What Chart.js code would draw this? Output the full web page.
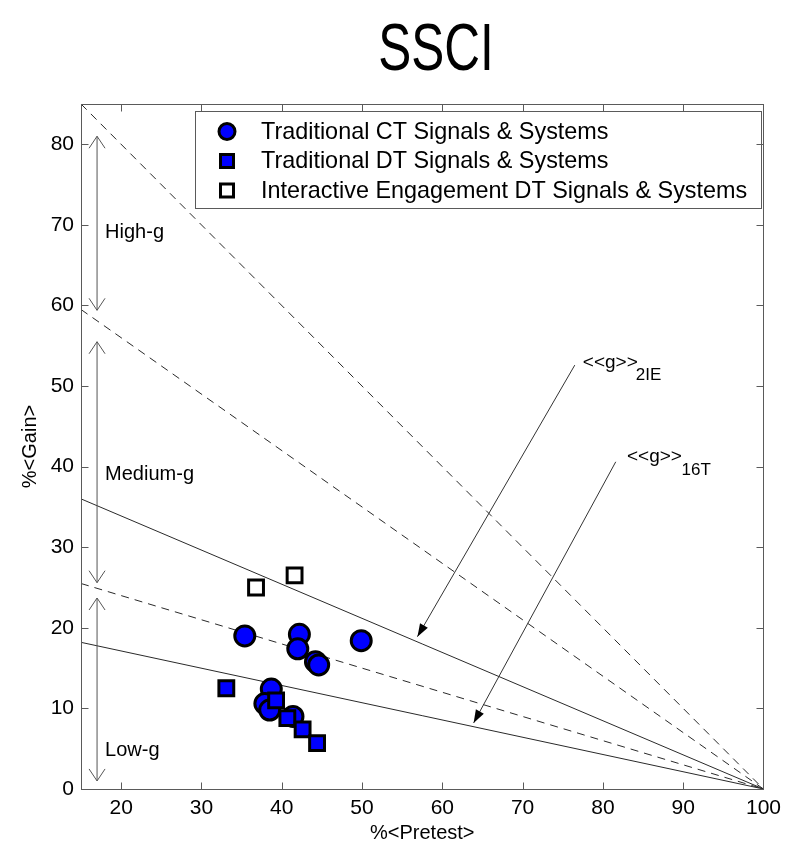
<!DOCTYPE html>
<html>
<head>
<meta charset="utf-8">
<title>SSCI</title>
<script src="https://cdn.jsdelivr.net/npm/chart.js@4.4.0/dist/chart.umd.min.js"></script>
<style>
  html, body { margin: 0; padding: 0; background: #fff; }
  #wrap { width: 788px; height: 845px; }
</style>
</head>
<body>
<div id="wrap"><canvas id="chart" width="788" height="845"></canvas></div>
<script>
// SSCI: % pretest vs % gain, with normalized-gain reference lines

// Traditional CT Signals & Systems
const ctPretest = [35.4, 42.2, 42.0, 49.9, 44.2, 44.6, 38.7, 37.9, 38.5, 41.4];
const ctGain    = [19.0, 19.2, 17.4, 18.4, 15.8, 15.4, 12.4, 10.6,  9.8,  9.0];

// Traditional DT Signals & Systems
const dtPretest = [33.1, 39.3, 40.7, 42.6, 44.4];
const dtGain    = [12.5, 11.0,  8.8,  7.4,  5.7];

// Interactive Engagement DT Signals & Systems
const iePretest = [36.8, 41.6];
const ieGain    = [25.0, 26.5];

// reference lines: start at pretest 15, all end at (100, 0)
const gLineStartY = [85.0, 59.5, 36.0, 25.5, 18.2];
const gLineDashed = [true, true, false, true, false];

const xTicks = [20, 30, 40, 50, 60, 70, 80, 90, 100];
const yTicks = [0, 10, 20, 30, 40, 50, 60, 70, 80];

// band arrows on the left
const bandLabels = ['High-g', 'Medium-g', 'Low-g'];
const bandTop    = [81.0, 55.5, 23.7];
const bandBottom = [59.4, 25.6, 1.0];
const bandLabelY = [69.0, 39.0, 4.8];

// <<g>> callouts
const gArrowFrom = [[76.5, 52.6], [81.6, 40.6]];
const gArrowTo   = [[56.9, 18.9], [63.9, 8.2]];
const gLabelPos  = [[77.5, 52.9], [83.0, 41.2]];
const gSubText   = ['2IE', '16T'];
const gSubPos    = [[84.1, 51.3], [89.8, 39.6]];

const FONT = "'Liberation Sans', Arial, Helvetica, sans-serif";
const AXIS_GREY = '#5a5a5a';

const legendItems = [
    { text: 'Traditional CT Signals & Systems', style: 'circle', fill: '#0000ff' },
    { text: 'Traditional DT Signals & Systems', style: 'rect', fill: '#0000ff' },
    { text: 'Interactive Engagement DT Signals & Systems', style: 'rect', fill: '#ffffff' },
];

function toPoints(xs, ys) {
    return xs.map((x, i) => ({ x, y: ys[i] }));
}

function arrowHead(ctx, x1, y1, x2, y2, len, half, filled) {
    const a = Math.atan2(y2 - y1, x2 - x1);
    const bx = x2 - len * Math.cos(a), by = y2 - len * Math.sin(a);
    const px = -Math.sin(a) * half, py = Math.cos(a) * half;
    ctx.beginPath();
    ctx.moveTo(bx + px, by + py);
    ctx.lineTo(x2, y2);
    ctx.lineTo(bx - px, by - py);
    if (filled) {
        ctx.closePath();
        ctx.fill();
    } else {
        ctx.stroke();
    }
}

const overlay = {
    id: 'overlay',
    afterDatasetsDraw(chart) {
        const { ctx } = chart;
        const xs = chart.scales.x, ys = chart.scales.y;
        ctx.save();

        // band arrows (double headed, open heads)
        ctx.strokeStyle = '#555';
        ctx.lineWidth = 1;
        const ax = xs.getPixelForValue(17);
        bandLabels.forEach((lbl, i) => {
            const yt = ys.getPixelForValue(bandTop[i]);
            const yb = ys.getPixelForValue(bandBottom[i]);
            ctx.beginPath();
            ctx.moveTo(ax, yt);
            ctx.lineTo(ax, yb);
            ctx.stroke();
            arrowHead(ctx, ax, yb, ax, yt, 12, 8, false);
            arrowHead(ctx, ax, yt, ax, yb, 12, 8, false);

            ctx.fillStyle = '#000';
            ctx.font = `20px ${FONT}`;
            ctx.textAlign = 'left';
            ctx.textBaseline = 'middle';
            ctx.fillText(lbl, xs.getPixelForValue(18.0), ys.getPixelForValue(bandLabelY[i]));
        });

        // <<g>> callout arrows
        gArrowFrom.forEach((from, i) => {
            const x1 = xs.getPixelForValue(from[0]), y1 = ys.getPixelForValue(from[1]);
            const x2 = xs.getPixelForValue(gArrowTo[i][0]), y2 = ys.getPixelForValue(gArrowTo[i][1]);
            ctx.strokeStyle = '#333';
            ctx.fillStyle = '#000';
            ctx.beginPath();
            ctx.moveTo(x1, y1);
            ctx.lineTo(x2, y2);
            ctx.stroke();
            arrowHead(ctx, x1, y1, x2, y2, 13, 4.5, true);

            ctx.textAlign = 'left';
            ctx.textBaseline = 'middle';
            ctx.font = `19px ${FONT}`;
            ctx.fillText('<<g>>', xs.getPixelForValue(gLabelPos[i][0]), ys.getPixelForValue(gLabelPos[i][1]));
            ctx.font = `17px ${FONT}`;
            ctx.fillText(gSubText[i], xs.getPixelForValue(gSubPos[i][0]), ys.getPixelForValue(gSubPos[i][1]));
        });

        // legend box
        const lx = 195, ly = 111, lw = 566, lh = 97;
        ctx.fillStyle = '#fff';
        ctx.fillRect(lx, ly, lw, lh);
        ctx.strokeStyle = AXIS_GREY;
        ctx.lineWidth = 1;
        ctx.strokeRect(lx + 0.5, ly + 0.5, lw, lh);
        const rowY = [131.5, 161, 190.5];
        legendItems.forEach((item, i) => {
            const mx = 227, my = rowY[i];
            ctx.fillStyle = item.fill;
            ctx.strokeStyle = '#000';
            ctx.lineWidth = 3;
            ctx.beginPath();
            if (item.style === 'circle') {
                ctx.arc(mx, my, 8, 0, Math.PI * 2);
            } else {
                ctx.rect(mx - 6.5, my - 6.5, 13, 13);
            }
            ctx.fill();
            ctx.stroke();

            ctx.fillStyle = '#000';
            ctx.font = `23.4px ${FONT}`;
            ctx.textAlign = 'left';
            ctx.textBaseline = 'middle';
            ctx.fillText(item.text, 261, my + 1);
        });

        ctx.restore();
    },
    afterDraw(chart) {
        const { ctx, chartArea: ca } = chart;
        const xs = chart.scales.x, ys = chart.scales.y;
        ctx.save();

        // axes box with inward ticks on all sides
        ctx.strokeStyle = AXIS_GREY;
        ctx.lineWidth = 1;
        const L = Math.round(ca.left) + 0.5, R = Math.round(ca.right) + 0.5;
        const T = Math.round(ca.top) + 0.5, B = Math.round(ca.bottom) + 0.5;
        ctx.strokeRect(L, T, R - L, B - T);
        ctx.beginPath();
        xTicks.forEach(v => {
            const px = Math.round(xs.getPixelForValue(v)) + 0.5;
            ctx.moveTo(px, B); ctx.lineTo(px, B - 7);
            ctx.moveTo(px, T); ctx.lineTo(px, T + 7);
        });
        yTicks.forEach(v => {
            const py = Math.round(ys.getPixelForValue(v)) + 0.5;
            ctx.moveTo(L, py); ctx.lineTo(L + 7, py);
            ctx.moveTo(R, py); ctx.lineTo(R - 7, py);
        });
        ctx.stroke();

        // title, condensed like the original
        ctx.fillStyle = '#000';
        ctx.font = `66px ${FONT}`;
        ctx.textAlign = 'center';
        ctx.textBaseline = 'alphabetic';
        ctx.translate(436, 70);
        ctx.scale(0.75, 1);
        ctx.fillText('SSCI', 0, 0);

        ctx.restore();
    },
};

const lineDatasets = gLineStartY.map((y0, i) => ({
    type: 'scatter',
    label: 'g' + i,
    data: [{ x: 15, y: y0 }, { x: 100, y: 0 }],
    showLine: true,
    borderColor: '#2a2a2a',
    borderWidth: 1,
    borderDash: gLineDashed[i] ? [8, 6] : [],
    pointRadius: 0,
    order: 10,
}));

new Chart(document.getElementById('chart'), {
    type: 'scatter',
    data: {
        datasets: [
            ...lineDatasets,
            {
                label: 'Traditional CT Signals & Systems',
                data: toPoints(ctPretest, ctGain),
                pointStyle: 'circle',
                pointRadius: 10,
                backgroundColor: '#0000ff',
                borderColor: '#000',
                borderWidth: 3,
                order: 3,
            },
            {
                label: 'Traditional DT Signals & Systems',
                data: toPoints(dtPretest, dtGain),
                pointStyle: 'rect',
                pointRadius: 10.5,
                backgroundColor: '#0000ff',
                borderColor: '#000',
                borderWidth: 3,
                order: 2,
            },
            {
                label: 'Interactive Engagement DT Signals & Systems',
                data: toPoints(iePretest, ieGain),
                pointStyle: 'rect',
                pointRadius: 10.5,
                backgroundColor: '#fff',
                borderColor: '#000',
                borderWidth: 3,
                order: 1,
            },
        ],
    },
    options: {
        responsive: false,
        devicePixelRatio: 1,
        animation: false,
        layout: { padding: { left: 0, right: 22, top: 104, bottom: 0 } },
        plugins: {
            legend: { display: false },
            tooltip: { enabled: false },
            title: { display: false },
        },
        scales: {
            x: {
                type: 'linear',
                min: 15,
                max: 100,
                grid: { display: false, drawTicks: false },
                border: { display: false },
                afterBuildTicks: (scale) => {
                    scale.ticks = xTicks.map(v => ({ value: v }));
                },
                afterFit: (scale) => { scale.height = 56; },
                ticks: {
                    color: '#000',
                    padding: 7,
                    maxRotation: 0,
                    font: { family: FONT, size: 21 },
                },
                title: {
                    display: true,
                    text: '%<Pretest>',
                    color: '#000',
                    font: { family: FONT, size: 20 },
                    padding: { top: 0, bottom: 0 },
                },
            },
            y: {
                type: 'linear',
                min: 0,
                max: 85,
                grid: { display: false, drawTicks: false },
                border: { display: false },
                afterBuildTicks: (scale) => {
                    scale.ticks = yTicks.map(v => ({ value: v }));
                },
                afterFit: (scale) => { scale.width = 81; },
                ticks: {
                    color: '#000',
                    padding: 7,
                    font: { family: FONT, size: 21 },
                },
                title: {
                    display: true,
                    text: '%<Gain>',
                    color: '#000',
                    font: { family: FONT, size: 20 },
                    padding: { top: 18, bottom: 0 },
                },
            },
        },
    },
    plugins: [overlay],
});
</script>
</body>
</html>
